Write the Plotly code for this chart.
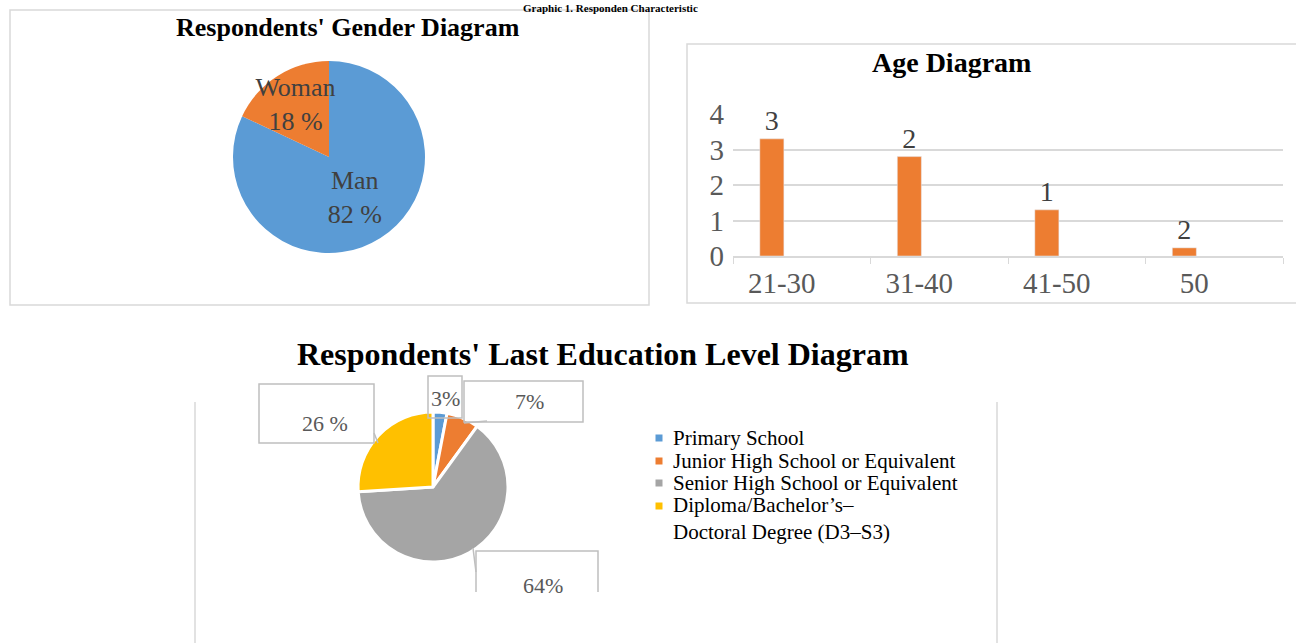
import plotly.graph_objects as go

W, H = 1296, 643
def px(x): return x / W
def py(y): return 1 - y / H

SERIF = "Liberation Serif"

# ---------------- data ----------------
gender_labels = ["Man", "Woman"]
gender_values = [82, 18]
gender_text = ["Man<br>82 %", "Woman<br>18 %"]
gender_colors = ["#5B9BD5", "#ED7D31"]

age_groups = ["21-30", "31-40", "41-50", "50"]
age_values = [3.3, 2.8, 1.3, 0.23]
age_labels = ["3", "2", "1", "2"]

edu_labels = ["Primary School", "Junior High School or Equivalent",
              "Senior High School or Equivalent",
              "Diploma/Bachelor’s–<br>Doctoral Degree (D3–S3)"]
edu_values = [3, 7, 64, 26]
edu_text = ["3%", "7%", "64%", "26 %"]
edu_colors = ["#5B9BD5", "#ED7D31", "#A5A5A5", "#FFC000"]

fig = go.Figure()

# gender pie
fig.add_trace(go.Pie(
    labels=gender_labels, values=gender_values, text=gender_text,
    textinfo="text", textposition="inside", insidetextorientation="horizontal",
    textfont=dict(family=SERIF, size=26, color="#404040"),
    marker=dict(colors=gender_colors, line=dict(color="rgba(0,0,0,0)", width=0)),
    sort=False, direction="clockwise", rotation=0, showlegend=False,
    domain=dict(x=[px(233), px(425)], y=[py(253), py(61)]),
    hoverinfo="label+percent",
))

# age bar
fig.add_trace(go.Bar(
    x=age_groups, y=age_values, text=age_labels, textposition="outside",
    textfont=dict(family=SERIF, size=28, color="#404040"),
    marker=dict(color="#ED7D31"), width=0.175, offset=-0.305,
    cliponaxis=False, constraintext="none", showlegend=False,
    xaxis="x", yaxis="y",
))

# education pie
fig.add_trace(go.Pie(
    labels=edu_labels, values=edu_values, textinfo="none",
    marker=dict(colors=edu_colors, line=dict(color="white", width=3)),
    sort=False, direction="clockwise", rotation=0, showlegend=False,
    domain=dict(x=[px(358), px(508)], y=[py(562), py(412)]),
))

shapes = []
grey = "#D9D9D9"
# panel borders
shapes.append(dict(type="rect", xref="paper", yref="paper", x0=px(10), x1=px(649),
                   y0=py(305), y1=py(10), line=dict(color=grey, width=1.5)))
shapes.append(dict(type="rect", xref="paper", yref="paper", x0=px(687), x1=px(1302),
                   y0=py(303), y1=py(44), line=dict(color=grey, width=1.5)))
for xx in (195, 997):
    shapes.append(dict(type="line", xref="paper", yref="paper", x0=px(xx), x1=px(xx),
                       y0=py(402), y1=py(648), line=dict(color=grey, width=1.5)))

# callout boxes
box = "#BFBFBF"
for (x0, y0, x1, y1) in [(428, 376, 462, 418), (464, 381, 583, 422), (259, 384, 374, 443)]:
    shapes.append(dict(type="rect", xref="paper", yref="paper", x0=px(x0), x1=px(x1),
                       y0=py(y1), y1=py(y0), line=dict(color=box, width=1.5)))
# open-bottom box for 64%
shapes.append(dict(type="path", xref="paper", yref="paper",
                   path=f"M {px(476)},{py(592)} L {px(476)},{py(551)} L {px(598)},{py(551)} L {px(598)},{py(592)}",
                   line=dict(color=box, width=1.5)))
# leader lines
for (x0, y0, x1, y1) in [(374, 433, 378, 443), (464, 423, 487, 421), (473, 548, 476, 572)]:
    shapes.append(dict(type="line", xref="paper", yref="paper", x0=px(x0), x1=px(x1),
                       y0=py(y0), y1=py(y1), line=dict(color=box, width=1.5)))

annotations = []
def ann(text, x, y, size, color="black", bold=False, yanchor="middle", xanchor="center"):
    annotations.append(dict(
        text=f"<b>{text}</b>" if bold else text, x=px(x), y=py(y),
        xref="paper", yref="paper", showarrow=False, xanchor=xanchor, yanchor=yanchor,
        align="left", font=dict(family=SERIF, size=size, color=color)))

ann("Graphic 1. Responden Characteristic", 610, 0, 11, bold=True, yanchor="top")
ann("Respondents' Gender Diagram", 348, 28, 26, bold=True)
ann("Age Diagram", 951, 62, 28, bold=True)
ann("Respondents' Last Education Level Diagram", 603, 354, 32, bold=True)

label_pos = {"3%": (445, 398), "7%": (529, 401), "64%": (543, 585), "26 %": (325, 423)}
for t in edu_text:
    xx, yy = label_pos[t]
    ann(t, xx, yy, 22, color="#595959")

# legend for the education pie (swatches + labels)
legend_rows = [438, 461, 483, 518.5]
for lab, col, yy in zip(edu_labels, edu_colors, legend_rows):
    ann(lab, 671, yy, 21, color="black", xanchor="left")
    sy = yy if "<br>" not in lab else 506
    shapes.append(dict(type="rect", xref="paper", yref="paper",
                       x0=px(655.5), x1=px(662.5), y0=py(sy + 3.5), y1=py(sy - 3.5),
                       fillcolor=col, line=dict(width=0)))

fig.update_layout(
    width=W, height=H, autosize=False,
    margin=dict(l=0, r=0, t=0, b=0, pad=0, autoexpand=False),
    paper_bgcolor="white", plot_bgcolor="white",
    shapes=shapes, annotations=annotations,
    uniformtext=dict(minsize=26, mode="show"),
    xaxis=dict(domain=[px(733), px(1283)], anchor="y", type="category",
               showline=True, linecolor=grey, linewidth=1.5, automargin=False,
               ticks="outside", tickson="boundaries", ticklen=6, tickcolor=grey,
               tickfont=dict(family=SERIF, size=29, color="#595959"),
               ticklabelshift=-20, showgrid=False, fixedrange=True),
    yaxis=dict(domain=[py(256), py(114)], anchor="x", range=[0, 4], dtick=1,
               showgrid=True, gridcolor=grey, gridwidth=1.5, zeroline=False,
               showline=False, ticks="", ticklabelstandoff=8, automargin=False,
               tickfont=dict(family=SERIF, size=29, color="#595959"), fixedrange=True),
    showlegend=False,
)

fig.write_html("out.html", config={"displayModeBar": False},
               post_script="document.body.style.margin='0px';document.body.style.overflow='hidden';")
